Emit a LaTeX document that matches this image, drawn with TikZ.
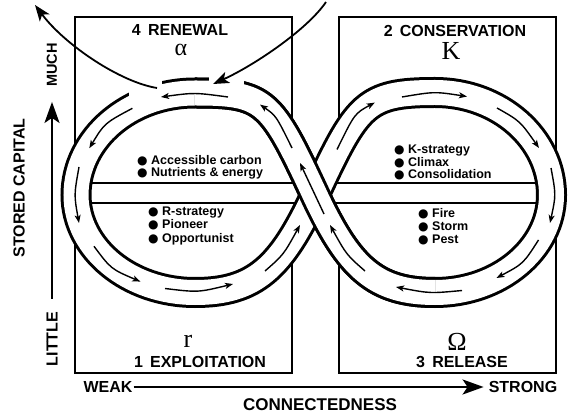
\documentclass[tikz,border=0pt]{standalone}
\usepackage{fontspec}
\setmainfont{Liberation Sans}
\newfontfamily\greekfont{Liberation Serif}
\newfontfamily\dotfont{DejaVu Sans}
\usetikzlibrary{
	positioning,
	arrows.meta
}

\newcommand{\blob}{\makebox[14pt][l]{\dotfont\fontsize{12}{12}\selectfont ●}}
\newcommand{\eightcurve}{
	(315,195) .. controls (357.3,104.4) and (365,92.5) .. (435,92.5)
	.. controls (499.3,92.5) and (551.5,138.4) .. (551.5,195)
	.. controls (551.5,248.8) and (499.3,292.5) .. (435,292.5)
	.. controls (375,292.5) and (348.8,267.5) .. (315,195)
	.. controls (270.6,99.8) and (265,93) .. (195,93)
	.. controls (129.3,93) and (76,138.7) .. (76,195)
	.. controls (76,248.8) and (129.3,292.5) .. (195,292.5)
	.. controls (255,292.5) and (281.2,267.5) .. (315,195) -- cycle
}
\newcommand{\backstrand}{
	(435,292.5) .. controls (375,292.5) and (348.8,267.5) .. (315,195)
	.. controls (270.6,99.8) and (265,93) .. (195,93)
}

\begin{document}
\begin{tikzpicture}[
	x=1pt,
	y=-1pt,
	phasebox/.style={draw, line width=1.4pt},
	band/.style={draw, line width=3pt, double=white, double distance=25pt},
	divider/.style={line width=1.6pt},
	flow/.style={line width=1.4pt, -{Stealth[length=8pt,width=6pt,inset=2pt]}},
	bigflow/.style={line width=1.8pt, -{Stealth[length=16pt,width=12pt,inset=4pt]}},
	axisarrow/.style={line width=2.2pt, -{Stealth[length=21pt,width=15pt,inset=5pt]}},
	phaselabel/.style={font=\bfseries\fontsize{16}{16}\selectfont, inner sep=0pt, anchor=base},
	greekletter/.style={font=\greekfont\fontsize{26}{26}\selectfont, inner sep=0pt, anchor=base},
	axislabel/.style={font=\bfseries\fontsize{16}{16}\selectfont, inner sep=1pt},
	bulletlist/.style={font=\bfseries\fontsize{12.5}{12.5}\selectfont, align=left, inner sep=0pt, anchor=west}
	]
	
	\fill[white] (0,0) rectangle (569,419);
	\useasboundingbox (0,0) rectangle (569,419);
	
	\draw[phasebox] (75,17) rectangle (292,373);
	\draw[phasebox] (339,17) rectangle (556,373);
	
	\fill[white] \eightcurve;
	\draw[divider] (70,183) -- (560,183);
	\draw[divider] (70,203) -- (560,203);
	\path[band] \eightcurve;
	\path[band] \backstrand;
	
	\fill[white] (129,72) rectangle (162,100);
	\fill[white] (209,70) rectangle (244,87);
	
	\draw[flow] (228,97) .. controls (194.5,92.5) .. (161,97);
	\draw[flow] (132.4,108.3) .. controls (104.5,123.2) .. (89.3,148.2);
	\draw[flow] (79,167) .. controls (74,195) .. (79,223);
	\draw[flow] (94,246.3) .. controls (111,269) .. (140.4,281.6);
	\draw[flow] (165,288.5) .. controls (198,292.5) .. (233,284);
	\draw[flow] (265,271) .. controls (283.5,254.8) .. (300,225);
	\draw[flow] (337,149.5) .. controls (354.7,113.4) .. (374.8,102.6);
	\draw[flow] (402,97) .. controls (434.5,91.5) .. (467,96.5);
	\draw[flow] (497,108) .. controls (520,121) .. (539,148);
	\draw[flow] (551,168) .. controls (556,195) .. (550,223);
	\draw[flow] (538.5,240) .. controls (523.3,263.7) .. (496.5,278);
	\draw[flow] (462,290.5) .. controls (430,293.5) .. (396,287);
	\draw[flow] (365,271) .. controls (346.5,254.8) .. (330,225);
	\draw[flow] (324,214) -- (300,163);
	\draw[flow] (292,148) .. controls (276,115.6) .. (260,104.6);
	
	\coordinate (exitfoot) at (157,88);
	\coordinate (exittip) at (35,5);
	\coordinate (entrytop) at (326,2);
	\coordinate (entrytip) at (213,84);
	\draw[bigflow] (exitfoot) .. controls (120,82) and (65,45) .. (exittip);
	\draw[bigflow] (entrytop) .. controls (307,30) and (253,66) .. (entrytip);
	
	\node[
	phaselabel
	]
	(renewal) at (180,36)
	{4\hspace{0.45em}RENEWAL};
	
	\node[
	greekletter,
	font=\greekfont\fontsize{24}{24}\selectfont
	]
	(alpha) at (181,56)
	{α};
	
	\node[
	phaselabel
	]
	(conservation) at (455,37)
	{2\hspace{0.45em}CONSERVATION};
	
	\node[greekletter] (kappa) at (451,60) {K};
	
	\node[
	phaselabel
	]
	(exploitation) at (200,367)
	{1\hspace{0.45em}EXPLOITATION};
	
	\node[greekletter] (rho) at (188,347) {r};
	
	\node[
	phaselabel
	]
	(release) at (462,367)
	{3\hspace{0.45em}RELEASE};
	
	\node[greekletter] (omega) at (457,350) {Ω};
	
	\node[bulletlist] (resources) at (137,167.5)
	{\blob Accessible carbon\\\blob Nutrients \& energy};
	\node[bulletlist, font=\bfseries\fontsize{12.5}{13.5}\selectfont] (rstrategy) at (148,225.5)
	{\blob R-strategy\\\blob Pioneer\\\blob Opportunist};
	\node[bulletlist] (kstrategy) at (394,162.5)
	{\blob K-strategy\\\blob Climax\\\blob Consolidation};
	\node[bulletlist, font=\bfseries\fontsize{12.5}{13}\selectfont] (disturbance) at (418,226.5)
	{\blob Fire\\\blob Storm\\\blob Pest};
	
	\node[axislabel] (weak) at (108,387) {WEAK};
	\node[axislabel] (strong) at (523,387) {STRONG};
	\node[
	axislabel,
	font=\bfseries\fontsize{17}{17}\selectfont
	]
	(connect) at (320,405)
	{CONNECTEDNESS};
	
	\node[axislabel, rotate=90] (little) at (52,339) {LITTLE};
	\node[
	axislabel,
	rotate=90,
	font=\bfseries\fontsize{14.5}{14.5}\selectfont
	]
	(much) at (52,65)
	{MUCH};
	\node[axislabel, rotate=90] (stored) at (19,188) {STORED CAPITAL};
	
	\draw[
	axisarrow,
	shorten >=4pt
	]
	(weak) -- (strong);
	
	\draw[
	axisarrow,
	shorten <=12pt,
	shorten >=14pt
	]
	(little) -- (much);
	
\end{tikzpicture}
\end{document}
